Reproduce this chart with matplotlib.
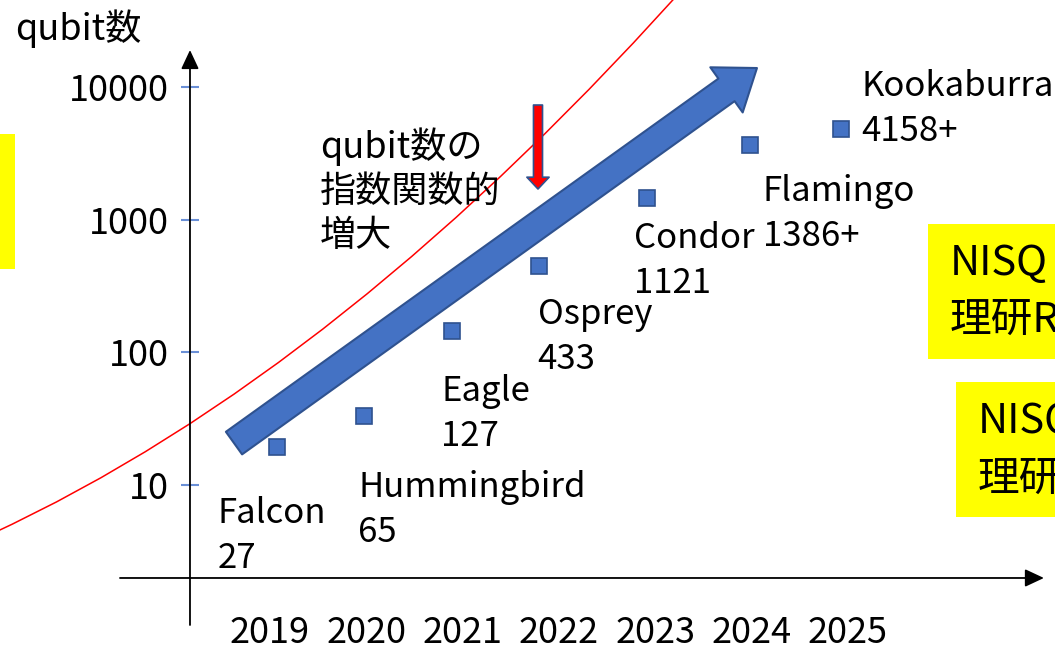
import matplotlib

matplotlib.use("Agg")
import matplotlib.pyplot as plt
from matplotlib.patches import PathPatch, Rectangle
from matplotlib.path import Path
from matplotlib.ticker import NullLocator

plt.rcParams["font.family"] = ["Noto Sans CJK JP", "DejaVu Sans"]

# --- data ----------------------------------------------------------------
YEARS = [2019, 2020, 2021, 2022, 2023, 2024, 2025]
Y_TICKS = [10, 100, 1000, 10000]

proc_names = ["Falcon", "Hummingbird", "Eagle", "Osprey", "Condor", "Flamingo", "Kookaburra"]
proc_labels = ["27", "65", "127", "433", "1121", "1386+", "4158+"]
# where the squares actually sit (fractional year, qubits on the log axis)
proc_x = [2019.07, 2019.98, 2020.89, 2021.79, 2022.91, 2023.98, 2024.93]
proc_y = [19.4, 33.1, 145, 449, 1447, 3649, 4842]

# hand-drawn red guide curve: start, bend control point, end
curve_x = [2016.092, 2019.779, 2023.465]
curve_y = [4.225, 72.2, 76400]

# big blue trend arrow and the red pointer (tail -> tip)
trend_from = (2018.626, 20.7)
trend_to = (2024.057, 13880)
pointer_from = (2021.783, 7305)
pointer_to = (2021.783, 1701)

growth_text = ["qubit数の", "指数関数的", "増大"]

# --- layout ---------------------------------------------------------------
XLIM = (2016.196, 2027.152)
YLIM = (0.5515, 45190)
AXIS_X = 2018.169      # where the vertical axis is drawn
AXIS_Y = 1.992         # where the horizontal axis is drawn
W, H = 1055, 652

# label offsets (pixels) from each square to the first text baseline
label_dx = [-59, -6, -11, -1, -13, 13, 20]
label_dy = [-76, -81, -70, -58, -50, -56, 33]
LINE_GAP = 45

BLUE = "#4472C4"
BLUE_EDGE = "#2F528F"
TICK_BLUE = "#6A8FD6"
FS = 26
LABEL_FS = 25


def fx(px):
    return px / W


def fy(py):
    return 1 - py / H


def yellow_box(fig, x0, y0, x1, y1):
    fig.add_artist(Rectangle((fx(x0), fy(y1)), fx(x1 - x0), (y1 - y0) / H,
                             transform=fig.transFigure, facecolor="#FFFF00",
                             edgecolor="none", zorder=0))


fig = plt.figure(figsize=(W / 100, H / 100), dpi=100)
ax = fig.add_axes([0, 0, 1, 1])
ax.set_yscale("log")
ax.set_xlim(*XLIM)
ax.set_ylim(*YLIM)
ax.patch.set_alpha(0)

for side in ("top", "right", "left", "bottom"):
    ax.spines[side].set_visible(False)
ax.spines["left"].set_position(("data", AXIS_X))
ax.spines["bottom"].set_position(("data", AXIS_Y))

ax.set_yticks(Y_TICKS)
ax.set_yticklabels([str(v) for v in Y_TICKS])
ax.yaxis.set_minor_locator(NullLocator())
ax.tick_params(axis="y", direction="inout", length=13, width=1.5, color=TICK_BLUE,
               labelsize=FS, pad=9)
ax.set_xticks(YEARS)
ax.set_xticklabels([str(y) for y in YEARS])
ax.tick_params(axis="x", length=0, labelsize=FS, pad=27)

# axes drawn as arrows, slide style
ax.annotate("", xy=(AXIS_X, 18970), xytext=(AXIS_X, 0.881),
            arrowprops=dict(arrowstyle="-|>,head_length=0.77,head_width=0.36",
                            mutation_scale=15, lw=1.3, color="black",
                            shrinkA=0, shrinkB=0))
ax.annotate("", xy=(2027.037, AXIS_Y), xytext=(2017.442, AXIS_Y),
            arrowprops=dict(arrowstyle="-|>,head_length=0.77,head_width=0.36",
                            mutation_scale=15, lw=1.3, color="black",
                            shrinkA=0, shrinkB=0))

curve = Path(list(zip(curve_x, curve_y)), [Path.MOVETO, Path.CURVE3, Path.CURVE3])
ax.add_patch(PathPatch(curve, facecolor="none", edgecolor="red", lw=1.1, zorder=2))

ax.annotate("", xy=trend_to, xytext=trend_from,
            arrowprops=dict(arrowstyle="simple,head_length=27,head_width=40,tail_width=20",
                            mutation_scale=1, facecolor=BLUE, edgecolor=BLUE_EDGE,
                            lw=1.5, shrinkA=0, shrinkB=0), zorder=3)
ax.annotate("", xy=pointer_to, xytext=pointer_from,
            arrowprops=dict(arrowstyle="simple,head_length=8.5,head_width=16,tail_width=6.5",
                            mutation_scale=1, facecolor="red", edgecolor=BLUE_EDGE,
                            lw=1.2, shrinkA=0, shrinkB=0), zorder=4)

ax.plot(proc_x, proc_y, linestyle="none", marker="s", markersize=12,
        markerfacecolor=BLUE, markeredgecolor=BLUE_EDGE, markeredgewidth=1.2, zorder=5)

for x, y, name, num, dx, dy in zip(proc_x, proc_y, proc_names, proc_labels, label_dx, label_dy):
    ax.annotate(name, xy=(x, y), xytext=(dx, dy), textcoords="offset pixels",
                fontsize=LABEL_FS, ha="left", va="baseline")
    ax.annotate(num, xy=(x, y), xytext=(dx, dy - LINE_GAP), textcoords="offset pixels",
                fontsize=LABEL_FS, ha="left", va="baseline")

fig.text(fx(15), fy(40), "qubit数", fontsize=FS, va="baseline")
for i, line in enumerate(growth_text):
    fig.text(fx(320), fy(158 + 44 * i), line, fontsize=FS, va="baseline")

# yellow call-out boxes cut off at the slide edges
yellow_box(fig, -5, 134, 15, 269)
yellow_box(fig, 928, 224, 1060, 359)
yellow_box(fig, 956, 382, 1060, 517)
fig.text(fx(950), fy(275), "NISQ", fontsize=30, va="baseline")
fig.text(fx(950), fy(333), "理研R", fontsize=30, va="baseline")
fig.text(fx(978), fy(433), "NISQ", fontsize=30, va="baseline")
fig.text(fx(978), fy(492), "理研R", fontsize=30, va="baseline")

fig.savefig("out.png", dpi=100)
